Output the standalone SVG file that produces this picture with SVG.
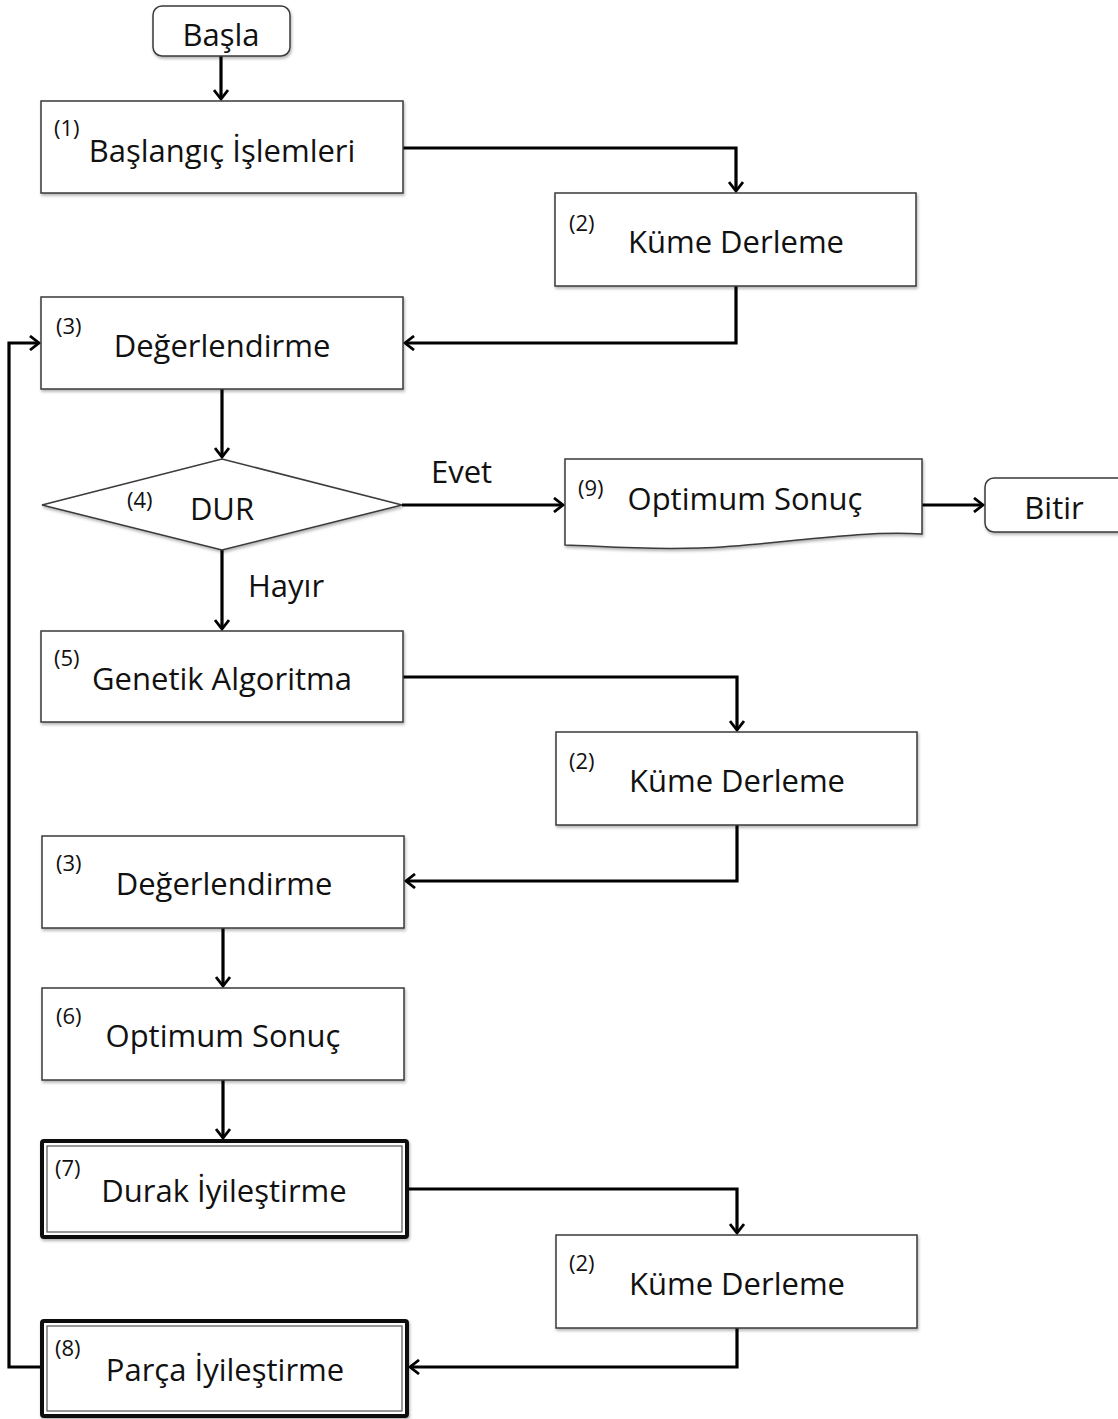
<svg xmlns="http://www.w3.org/2000/svg" width="1118" height="1419" viewBox="0 0 1118 1419">
<style>
.box{fill:#fff;stroke:#3a3a3a;stroke-width:1.5;filter:url(#sh)}
.thick{fill:#fff;stroke:#111;stroke-width:4;filter:url(#sh)}
.inner{fill:none;stroke:#555;stroke-width:1.2}
.t{font-family:"Open Sans","Noto Sans",sans-serif;font-size:31px;fill:#111}
.n{font-family:"Open Sans","Noto Sans",sans-serif;font-size:22px;fill:#111}
.c{fill:none;stroke:#000;stroke-width:3.2}
</style>
<defs>
<filter id="sh" x="-5%" y="-5%" width="110%" height="115%">
<feDropShadow dx="1" dy="2" stdDeviation="1.5" flood-color="#000" flood-opacity="0.3"/>
</filter>
<marker id="ah" markerUnits="userSpaceOnUse" markerWidth="16" markerHeight="16" refX="12" refY="8" orient="auto">
<path d="M3,1 L12,8 L3,15" fill="none" stroke="#000" stroke-width="2.8"/>
</marker>
</defs>
<g id="connectors">
<path class="c" d="M221,56 V99" marker-end="url(#ah)"/>
<path class="c" d="M403,148 H736 V191" marker-end="url(#ah)"/>
<path class="c" d="M736,286 V343 H405" marker-end="url(#ah)"/>
<path class="c" d="M222,389 V457" marker-end="url(#ah)"/>
<path class="c" d="M402,505 H563" marker-end="url(#ah)"/>
<path class="c" d="M922,505 H983" marker-end="url(#ah)"/>
<path class="c" d="M222,550 V629" marker-end="url(#ah)"/>
<path class="c" d="M403,677 H737 V730" marker-end="url(#ah)"/>
<path class="c" d="M737,825 V881 H406" marker-end="url(#ah)"/>
<path class="c" d="M223,928 V986" marker-end="url(#ah)"/>
<path class="c" d="M223,1080 V1138" marker-end="url(#ah)"/>
<path class="c" d="M408,1189 H737 V1233" marker-end="url(#ah)"/>
<path class="c" d="M737,1328 V1367 H410" marker-end="url(#ah)"/>
<path class="c" d="M41,1367 H9 V343 H39" marker-end="url(#ah)"/>
<text class="t" x="431" y="483">Evet</text>
<text class="t" x="248" y="597">Hayır</text>
</g>
<g id="basla">
<rect class="box" x="153" y="6" width="137" height="50" rx="9"/>
<text class="t" x="221" y="46" text-anchor="middle">Başla</text>
</g>
<g id="n1">
<rect class="box" x="41" y="101" width="362" height="92"/>
<text class="n" x="54" y="136">(1)</text>
<text class="t" x="222" y="162" text-anchor="middle">Başlangıç İşlemleri</text>
</g>
<g id="n2a">
<rect class="box" x="555" y="193" width="361" height="93"/>
<text class="n" x="569" y="231">(2)</text>
<text class="t" x="736" y="253" text-anchor="middle">Küme Derleme</text>
</g>
<g id="n3a">
<rect class="box" x="41" y="297" width="362" height="92"/>
<text class="n" x="56" y="334">(3)</text>
<text class="t" x="222" y="357" text-anchor="middle">Değerlendirme</text>
</g>
<g id="n4">
<polygon class="box" points="42,505 222,459 402,505 222,550"/>
<text class="n" x="127" y="508">(4)</text>
<text class="t" x="222" y="520" text-anchor="middle">DUR</text>
</g>
<g id="n9">
<path class="box" d="M565,459 H922 V534 C850,530 780,545 700,548 C640,550 600,546 565,545 Z"/>
<text class="n" x="578" y="496">(9)</text>
<text class="t" x="745" y="510" text-anchor="middle">Optimum Sonuç</text>
</g>
<g id="bitir">
<rect class="box" x="985" y="478" width="145" height="54" rx="9"/>
<text class="t" x="1054" y="519" text-anchor="middle">Bitir</text>
</g>
<g id="n5">
<rect class="box" x="41" y="631" width="362" height="91"/>
<text class="n" x="54" y="666">(5)</text>
<text class="t" x="222" y="690" text-anchor="middle">Genetik Algoritma</text>
</g>
<g id="n2b">
<rect class="box" x="556" y="732" width="361" height="93"/>
<text class="n" x="569" y="769">(2)</text>
<text class="t" x="737" y="792" text-anchor="middle">Küme Derleme</text>
</g>
<g id="n3b">
<rect class="box" x="42" y="836" width="362" height="92"/>
<text class="n" x="56" y="871">(3)</text>
<text class="t" x="224" y="895" text-anchor="middle">Değerlendirme</text>
</g>
<g id="n6">
<rect class="box" x="42" y="988" width="362" height="92"/>
<text class="n" x="56" y="1024">(6)</text>
<text class="t" x="223" y="1047" text-anchor="middle">Optimum Sonuç</text>
</g>
<g id="n7">
<rect class="thick" x="42" y="1141" width="365" height="96" rx="2"/>
<rect class="inner" x="47" y="1146" width="355" height="86"/>
<text class="n" x="55" y="1176">(7)</text>
<text class="t" x="224" y="1202" text-anchor="middle">Durak İyileştirme</text>
</g>
<g id="n2c">
<rect class="box" x="556" y="1235" width="361" height="93"/>
<text class="n" x="569" y="1271">(2)</text>
<text class="t" x="737" y="1295" text-anchor="middle">Küme Derleme</text>
</g>
<g id="n8">
<rect class="thick" x="42" y="1321" width="365" height="95" rx="2"/>
<rect class="inner" x="47" y="1326" width="355" height="85"/>
<text class="n" x="55" y="1356">(8)</text>
<text class="t" x="225" y="1381" text-anchor="middle">Parça İyileştirme</text>
</g>
</svg>
